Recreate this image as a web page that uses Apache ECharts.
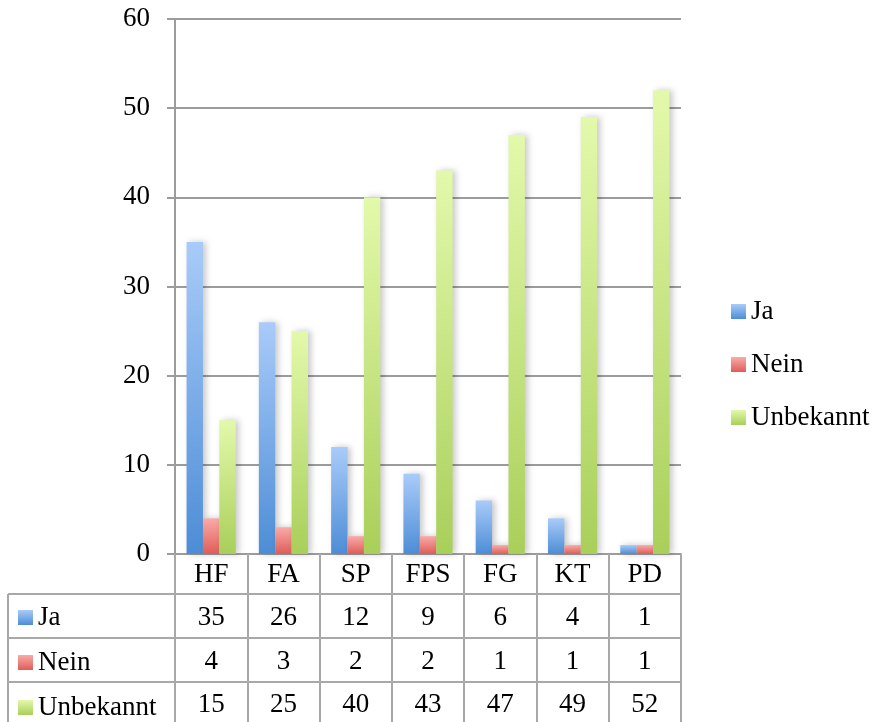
<!DOCTYPE html>
<html>
<head>
<meta charset="utf-8">
<script src="https://cdn.jsdelivr.net/npm/echarts@6/dist/echarts.min.js"></script>
<style>
  html, body { margin: 0; padding: 0; background: #fff; }
  #chart { width: 881px; height: 722px; }
</style>
</head>
<body>
<div id="chart"></div>
<script>
// Categories and counts per answer
const categories = ['HF', 'FA', 'SP', 'FPS', 'FG', 'KT', 'PD'];
const jaValues = [35, 26, 12, 9, 6, 4, 1];
const neinValues = [4, 3, 2, 2, 1, 1, 1];
const unbekanntValues = [15, 25, 40, 43, 47, 49, 52];
const seriesNames = ['Ja', 'Nein', 'Unbekannt'];
const yTicks = { min: 0, max: 60, interval: 10 };

const FONT = 'Liberation Serif';
const FS = 27;
const LH = 26;
const GRID = { left: 175, right: 200, top: 19, bottom: 168 };
const TABLE_RIGHT = 881 - GRID.right;
const GRID_COLOR = '#9c9c9c';
const TABLE_COLOR = '#a8a8a8';

function grad(top, bottom) {
  return new echarts.graphic.LinearGradient(0, 0, 0, 1, [
    { offset: 0, color: top },
    { offset: 1, color: bottom }
  ]);
}
const fills = [
  grad('#a9cbf9', '#4d8dd6'),
  grad('#f9aba8', '#df5d57'),
  grad('#e3f9ab', '#a9cf5a')
];

function barSeries(name, data, fill) {
  return {
    name: name,
    type: 'bar',
    data: data,
    barGap: '0%',
    barCategoryGap: '32%',
    itemStyle: {
      color: fill,
      shadowColor: 'rgba(0,0,0,0.22)',
      shadowBlur: 6,
      shadowOffsetX: 3,
      shadowOffsetY: 0
    },
    emphasis: { disabled: true }
  };
}

// One hidden-line category axis per table row, labels read from the series arrays
function tableRowAxis(values, offset) {
  return {
    type: 'category',
    gridIndex: 0,
    position: 'bottom',
    offset: offset,
    data: categories,
    axisLine: { show: false },
    axisTick: { show: false },
    axisLabel: {
      interval: 0,
      margin: 7,
      fontFamily: FONT,
      fontSize: FS,
      lineHeight: LH,
      color: '#000',
      formatter: (v, i) => String(values[i])
    }
  };
}

function legendBlock(left, top, gap) {
  return {
    data: seriesNames,
    orient: 'vertical',
    left: left,
    top: top,
    padding: 0,
    itemGap: gap,
    itemWidth: 15,
    itemHeight: 15,
    icon: 'rect',
    selectedMode: false,
    textStyle: { fontFamily: FONT, fontSize: FS, lineHeight: LH, color: '#000' },
    itemStyle: { shadowBlur: 0, shadowOffsetX: 0 }
  };
}

const chart = echarts.init(document.getElementById('chart'), null, { renderer: 'canvas' });

// Horizontal rules and left border of the data table
const tableRowsY = [594, 638, 682];
const graphics = tableRowsY.map(y => ({
  type: 'line',
  shape: { x1: 8, y1: y, x2: TABLE_RIGHT, y2: y },
  style: { stroke: TABLE_COLOR, lineWidth: 2 },
  silent: true
}));
graphics.push({
  type: 'line',
  shape: { x1: 8, y1: 594, x2: 8, y2: 722 },
  style: { stroke: TABLE_COLOR, lineWidth: 2 },
  silent: true
});

chart.setOption({
  animation: false,
  backgroundColor: '#fff',
  textStyle: { fontFamily: FONT },
  grid: GRID,
  legend: [
    legendBlock(731, 298, 26),
    legendBlock(18, 604, 18)
  ],
  xAxis: [
    {
      type: 'category',
      data: categories,
      position: 'bottom',
      axisLine: { show: true, lineStyle: { color: GRID_COLOR, width: 2 } },
      // ticks reach down through the table to form its column rules
      axisTick: { show: true, length: 168, lineStyle: { color: TABLE_COLOR, width: 2 } },
      axisLabel: {
        interval: 0,
        margin: 8,
        fontFamily: FONT,
        fontSize: FS,
        lineHeight: LH,
        color: '#000'
      }
    },
    tableRowAxis(jaValues, 44),
    tableRowAxis(neinValues, 88),
    tableRowAxis(unbekanntValues, 131)
  ],
  yAxis: {
    type: 'value',
    min: yTicks.min,
    max: yTicks.max,
    interval: yTicks.interval,
    axisLine: { show: true, lineStyle: { color: GRID_COLOR, width: 2 } },
    axisTick: { show: true, length: 8, lineStyle: { color: GRID_COLOR, width: 2 } },
    splitLine: { show: true, lineStyle: { color: GRID_COLOR, width: 2 } },
    axisLabel: {
      margin: 25,
      fontFamily: FONT,
      fontSize: FS,
      color: '#000'
    }
  },
  series: [
    barSeries(seriesNames[0], jaValues, fills[0]),
    barSeries(seriesNames[1], neinValues, fills[1]),
    barSeries(seriesNames[2], unbekanntValues, fills[2])
  ],
  graphic: graphics
});
</script>
</body>
</html>
